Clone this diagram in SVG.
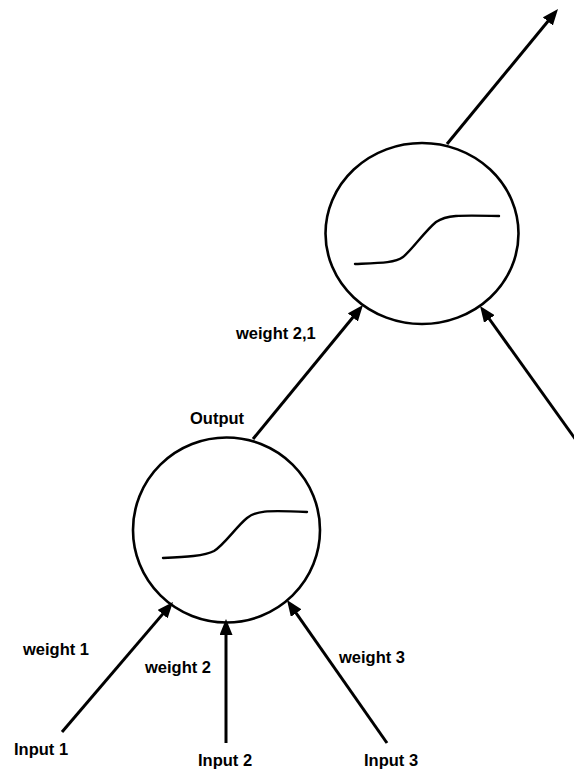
<svg xmlns="http://www.w3.org/2000/svg" width="574" height="769" viewBox="0 0 574 769">
  <style>
    .neuron { fill: #ffffff; stroke: #000000; stroke-width: 2.6; }
    .curve { fill: none; stroke: #000000; stroke-width: 2.4; stroke-linecap: round; }
    .link { stroke: #000000; stroke-width: 3; fill: none; marker-end: url(#head); }
    .label { font-family: "Liberation Sans", Arial, Helvetica, sans-serif; font-size: 16.5px; font-weight: bold; fill: #000000; }
  </style>
  <defs>
    <marker id="head" viewBox="0 0 16 13" refX="8" refY="6.5" markerWidth="16" markerHeight="13" markerUnits="userSpaceOnUse" orient="auto">
      <path d="M0,0 L16,6.5 L0,13 z" fill="#000000"/>
    </marker>
  </defs>

  <rect width="574" height="769" fill="#ffffff"/>

  <!-- hidden-layer neuron with sigmoid activation -->
  <g id="neuron-hidden">
    <ellipse class="neuron" cx="226.5" cy="530" rx="93.5" ry="92.5"/>
    <path class="curve" d="M163,558 C185,557 205,556 214,551 C224,545 236,527 247,518 C256,511 265,510 307,512"/>
  </g>

  <!-- next-layer neuron -->
  <g id="neuron-next">
    <ellipse class="neuron" cx="422" cy="233.5" rx="96.5" ry="90.5"/>
    <path class="curve" d="M355,264 C380,263 395,263 403,257 C412,250 424,232 436,222 C446,215 458,215 499,216"/>
  </g>

  <!-- weighted connections -->
  <g id="connectors">
    <line class="link" x1="62" y1="732" x2="167.8" y2="608.1"/>
    <line class="link" x1="226" y1="743" x2="226" y2="627"/>
    <line class="link" x1="387" y1="743" x2="291.6" y2="606.6"/>
    <line class="link" x1="253" y1="439" x2="357.9" y2="311.2"/>
    <line class="link" x1="576" y1="440" x2="484.7" y2="312.5"/>
    <line class="link" x1="447" y1="144" x2="552.9" y2="15.2"/>
  </g>

  <g id="labels">
    <text class="label" x="14" y="755">Input 1</text>
    <text class="label" x="198" y="766">Input 2</text>
    <text class="label" x="364" y="766">Input 3</text>
    <text class="label" x="23" y="655">weight 1</text>
    <text class="label" x="145" y="673">weight 2</text>
    <text class="label" x="339" y="663">weight 3</text>
    <text class="label" x="190" y="424">Output</text>
    <text class="label" x="236" y="339">weight 2,1</text>
  </g>
</svg>
